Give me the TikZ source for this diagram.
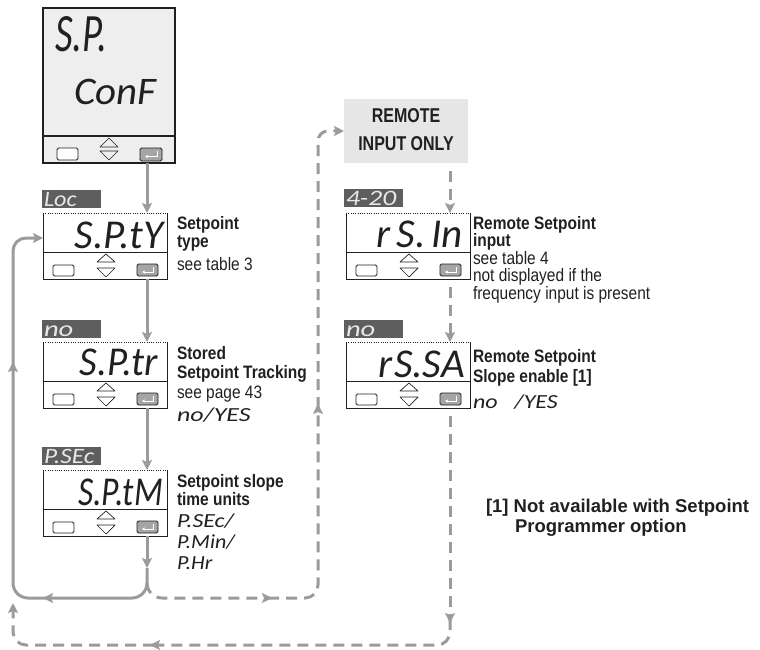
\documentclass[tikz,border=0pt]{standalone}
\usepackage{fontspec}
\usepackage{graphicx}
\setmainfont{Liberation Sans}
\newfontfamily\condfont{Liberation Sans}[FakeStretch=0.86]
\newfontfamily\remfont{Liberation Sans}[FakeStretch=0.8]
\newfontfamily\segfont{Carlito}
\usetikzlibrary{arrows.meta,calc}
\definecolor{conn}{HTML}{9B9B9B}
\definecolor{tabfill}{HTML}{5E5E5E}
\definecolor{tabtext}{HTML}{E8E8E8}
\definecolor{ink}{HTML}{231F20}
\definecolor{screen}{HTML}{EEEEEE}
\definecolor{entfill}{HTML}{A5A5A5}
\definecolor{remfill}{HTML}{E6E6E6}
\newcommand\sx[2]{\scalebox{#1}[1]{#2}}
\tikzset{
  devline/.style={draw=ink, line width=0.9pt},
  cline/.style={draw=conn, line width=3pt},
  carrow/.style={cline, -{Stealth[length=10pt,width=10pt,inset=2pt]}},
  dline/.style={cline, dash pattern=on 11pt off 7pt},
  darrow/.style={dline, -{Stealth[length=10pt,width=10pt,inset=2pt]}},
  lbl/.style={inner sep=0pt, outer sep=0pt, anchor=base west, text=ink},
  ttl/.style={lbl, font=\condfont\bfseries\fontsize{18}{20}\selectfont},
  ntx/.style={lbl, font=\condfont\fontsize{18}{20}\selectfont},
  segopt/.style={lbl, font=\segfont\itshape\fontsize{20}{20}\selectfont},
  segdisp/.style={inner sep=0pt, outer sep=0pt, anchor=base east, text=ink, font=\segfont\itshape\fontsize{41}{41}\selectfont},
  tabbox/.style={fill=tabfill, draw=none, minimum width=59pt, minimum height=18pt, anchor=north west, inner sep=0pt, outer sep=0pt},
  tabtxt/.style={inner sep=0pt, outer sep=0pt, anchor=base west, text=tabtext, font=\segfont\itshape\fontsize{22}{22}\selectfont},
  remtxt/.style={inner sep=0pt, outer sep=0pt, anchor=base, text=ink, font=\remfont\bfseries\fontsize{20}{22}\selectfont},
  fntxt/.style={lbl, font=\bfseries\fontsize{18.5}{22}\selectfont},
}
\newcommand\device[3]{%
  \begin{scope}[shift={(#2,#3)}]
    \node[name=#1, minimum width=124pt, minimum height=66pt, inner sep=0pt, outer sep=0pt] at (62,33) {};
    \draw[devline] (0,0) -- (0,66) -- (124,66) -- (124,0);
    \draw[devline, line width=0.7pt, dash pattern=on 1pt off 1.3pt] (0,0) -- (124,0);
    \draw[devline] (0,39) -- (124,39);
    \draw[devline, fill=white, rounded corners=1.5pt] (10,52) rectangle (31,63);
    \draw[devline, line width=0.7pt, line join=round] (54,49) -- (63,41) -- (72,49) -- cycle;
    \draw[devline, line width=0.7pt, line join=round] (54,55) -- (63,64) -- (72,55) -- cycle;
    \draw[devline, fill=entfill, rounded corners=1.5pt] (94,51) rectangle (115,63);
    \draw[white, line width=0.9pt, -{Latex[length=2.5pt,width=3.5pt]}] (110,53.5) -- (110,59) -- (99,59);
  \end{scope}}
\begin{document}
\begin{tikzpicture}[x=1pt,y=-1pt]
\useasboundingbox (0,0) rectangle (760,650);

% ---------- top display ----------
\node[name=dtop, draw=ink, line width=1.1pt, fill=screen, minimum width=132pt, minimum height=155pt,
      anchor=north west, inner sep=0pt, outer sep=0pt] at (43,8) {};
\draw[devline, line width=1.1pt] (43,136) -- (175,136);
\draw[devline, fill=white, rounded corners=1.5pt] (57,148) rectangle (78,160);
\draw[devline, line width=0.7pt, line join=round] (100,147) -- (109,138) -- (118,147) -- cycle;
\draw[devline, line width=0.7pt, line join=round] (100,151) -- (109,160) -- (118,151) -- cycle;
\draw[devline, fill=entfill, rounded corners=1.5pt] (140,148) rectangle (162,161);
\draw[white, line width=0.9pt, -{Latex[length=2.5pt,width=3.5pt]}] (157,150.5) -- (157,156.5) -- (145,156.5);
\node[name=topA, inner sep=0pt, anchor=base west, text=ink, font=\segfont\itshape\fontsize{54}{54}\selectfont] at (55,52) {\sx{0.72}{S.P.}};
\node[name=topB, inner sep=0pt, anchor=base west, text=ink, font=\segfont\itshape\fontsize{39}{39}\selectfont] at (74,105) {\sx{1.05}{ConF}};

% ---------- devices ----------
\device{d2}{43}{213}
\device{d3}{43}{342}
\device{d4}{43}{470}
\device{d5}{346}{213}
\device{d6}{346}{342}

\node[segdisp, name=s2] at (163,248) {S.P.tY};
\node[segdisp, name=s3] at (158,375) {\sx{0.95}{S.P.tr}};
\node[segdisp, name=s4] at (163,505) {\sx{0.82}{S.P.tM}};
\node[segdisp, name=s5] at (463,247) {r\hspace{6pt}S.\hspace{6pt}In};
\node[segdisp, name=s6] at (465,377) {r\hspace{2pt}S.SA};

% ---------- tab labels ----------
\node[tabbox, name=t2] at (42,190) {};
\node[tabtxt, name=t2t] at (44,206) {\sx{1.1}{Loc}};
\node[tabbox, name=t3] at (42,320) {};
\node[tabtxt, name=t3t] at (44,336) {\sx{1.3}{no}};
\node[tabbox, name=t4] at (42,447) {};
\node[tabtxt, name=t4t] at (44,463) {\sx{1.15}{P.SEc}};
\node[tabbox, name=t5] at (344,189) {};
\node[tabtxt, name=t5t] at (346,205) {\sx{1.25}{4-20}};
\node[tabbox, name=t6] at (344,320) {};
\node[tabtxt, name=t6t] at (346,336) {\sx{1.3}{no}};

% ---------- left column texts ----------
\node[ttl, name=a1] at (177,229) {Setpoint};
\node[ttl, name=a2] at (177,247) {type};
\node[ntx, name=a3] at (177,270) {see table 3};

\node[ttl, name=b1] at (177,359) {Stored};
\node[ttl, name=b2] at (177,378) {Setpoint Tracking};
\node[ntx, name=b3] at (177,398) {see page 43};
\node[segopt, name=b4] at (177,421) {\sx{1.3}{no/YES}};

\node[ttl, name=c1] at (177,487) {Setpoint slope};
\node[ttl, name=c2] at (177,505) {time units};
\node[segopt, name=c3] at (177,527) {\sx{1.2}{P.SEc/}};
\node[segopt, name=c4] at (177,548) {\sx{1.1}{P.Min/}};
\node[segopt, name=c5] at (177,569) {\sx{1.1}{P.Hr}};

% ---------- right column texts ----------
\node[ttl, name=e1] at (473,229) {Remote Setpoint};
\node[ttl, name=e2] at (473,246) {input};
\node[ntx, name=e3] at (473,264) {see table 4};
\node[ntx, name=e4] at (473,281) {not displayed if the};
\node[ntx, name=e5] at (473,299) {frequency input is present};

\node[ttl, name=f1] at (473,362) {Remote Setpoint};
\node[ttl, name=f2] at (473,382) {Slope enable [1]};
\node[segopt, name=f3] at (473,408) {\sx{1.2}{no\hspace{14pt}/YES}};

% ---------- remote box ----------
\node[name=rem, fill=remfill, minimum width=124pt, minimum height=64pt, anchor=north west, inner sep=0pt, outer sep=0pt] at (344,99) {};
\node[remtxt, name=remA] at (406,123) {REMOTE};
\node[remtxt, name=remB] at (406,150) {INPUT ONLY};

% ---------- footnote ----------
\node[fntxt, name=fnA] at (486,512) {[1] Not available with Setpoint};
\node[fntxt, name=fnB] at (515,532) {Programmer option};

% ---------- connectors ----------
\coordinate (lx) at (147,0);
\coordinate (rx) at (450,0);
\draw[carrow] (dtop.south -| lx) -- (d2.north -| lx);
\draw[carrow] (d2.south -| lx) -- (d3.north -| lx);
\draw[carrow] (d3.south -| lx) -- (d4.north -| lx);
\coordinate (j) at (147,568);
\draw[carrow] (d4.south -| lx) -- (j);

\coordinate (jb) at (147,598);
\coordinate (bl) at (13,598);
\coordinate (tl) at (13,238);
\coordinate (la1) at (43,598);
\coordinate (la2) at (13,362);
\coordinate (d2in) at ($(d2.north west)+(0,25)$);
\draw[carrow, rounded corners=15pt] (j) -- (jb) -- (la1);
\draw[carrow, rounded corners=15pt] ($(la1)+(4,0)$) -- (bl) -- (la2);
\draw[carrow, rounded corners=13pt] ($(la2)+(0,4)$) -- (tl) -- (d2in);

% dashed branch to remote
\coordinate (ds) at (147,583);
\coordinate (dr1) at (272,598);
\coordinate (dbr) at (318,598);
\coordinate (du1) at (318,404);
\coordinate (dtr) at (318,131);
\draw[darrow, rounded corners=15pt] (ds) -- (jb) -- (dr1);
\draw[darrow, rounded corners=13pt] ($(dr1)+(-4,0)$) -- (dbr) -- (du1);
\draw[darrow, rounded corners=10pt] ($(du1)+(0,4)$) -- (dtr) -- (rem.west);

\draw[darrow] ($(rem.south -| rx)+(0,8)$) -- (d5.north -| rx);
\draw[darrow] ($(d5.south -| rx)+(0,8)$) -- (d6.north -| rx);
\coordinate (dd1) at (450,623);
\coordinate (dbrr) at (450,645);
\coordinate (dl1) at (150,645);
\coordinate (dbl) at (13,645);
\coordinate (du2) at (13,603);
\draw[darrow] ($(d6.south -| rx)+(0,8)$) -- (dd1);
\draw[darrow, rounded corners=13pt] ($(dd1)+(0,-4)$) -- (dbrr) -- (dl1);
\draw[darrow, rounded corners=13pt] ($(dl1)+(4,0)$) -- (dbl) -- (du2);
\end{tikzpicture}
\end{document}
